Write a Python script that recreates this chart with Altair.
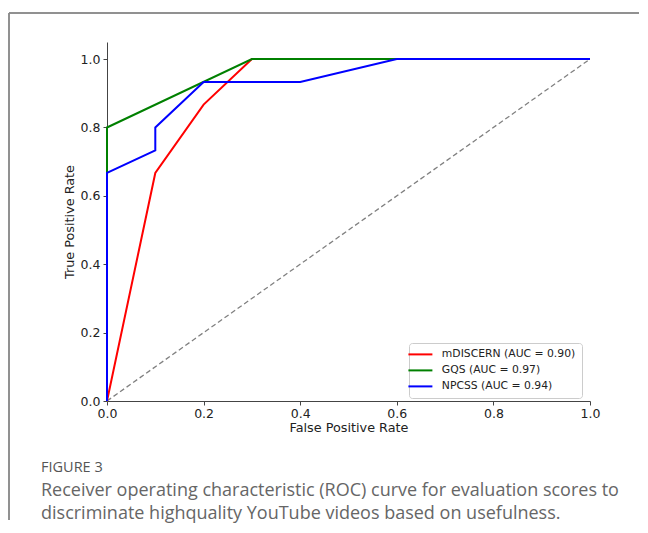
import altair as alt
import pandas as pd

series_names = ["mDISCERN (AUC = 0.90)", "GQS (AUC = 0.97)", "NPCSS (AUC = 0.94)"]
series_colors = ["#ff0000", "#008000", "#0000ff"]

fpr_mdiscern = [0.0, 0.1, 0.2, 0.3, 1.0]
tpr_mdiscern = [0.0, 0.667, 0.867, 1.0, 1.0]
fpr_gqs = [0.0, 0.0, 0.3, 1.0]
tpr_gqs = [0.0, 0.8, 1.0, 1.0]
fpr_npcss = [0.0, 0.0, 0.1, 0.1, 0.2, 0.4, 0.6, 1.0]
tpr_npcss = [0.0, 0.667, 0.733, 0.8, 0.933, 0.933, 1.0, 1.0]
diag_x = [0.0, 1.0]
diag_y = [0.0, 1.0]
tick_values = [0.0, 0.2, 0.4, 0.6, 0.8, 1.0]

caption_label = "FIGURE 3"
caption_lines = [
    "Receiver operating characteristic (ROC) curve for evaluation scores to",
    "discriminate highquality YouTube videos based on usefulness.",
]

rows = []
for name, xs, ys in zip(series_names,
                        [fpr_mdiscern, fpr_gqs, fpr_npcss],
                        [tpr_mdiscern, tpr_gqs, tpr_npcss]):
    for i, (x, y) in enumerate(zip(xs, ys)):
        rows.append({"series": name, "fpr": x, "tpr": y, "idx": i})
df = pd.DataFrame(rows)
diag = pd.DataFrame({"fpr": diag_x, "tpr": diag_y})

W, H = 483, 359
font = "DejaVu Sans"

xscale = alt.Scale(domain=[0, 1], nice=False, zero=False)
yscale = alt.Scale(domain=[0, 1.05], nice=False, zero=False)

xaxis = alt.Axis(values=tick_values, format=".1f", grid=False, title="False Positive Rate",
                 domainColor="#444", tickColor="#444", tickSize=4, labelPadding=2,
                 labelFlush=False, labelOverlap=False,
                 labelFont=font, labelFontSize=12.5, labelColor="#222",
                 titleFont=font, titleFontSize=12.8, titleFontWeight="normal", titleColor="#222",
                 titlePadding=2)
yaxis = alt.Axis(values=tick_values, format=".1f", grid=False, title="True Positive Rate",
                 domainColor="#444", tickColor="#444", tickSize=4, labelPadding=3,
                 labelFlush=False, labelOverlap=False,
                 labelFont=font, labelFontSize=12.5, labelColor="#222",
                 titleFont=font, titleFontSize=12.8, titleFontWeight="normal", titleColor="#222",
                 titlePadding=4)

diag_layer = alt.Chart(diag).mark_line(color="#808080", strokeDash=[5, 3], strokeWidth=1.3).encode(
    x=alt.X("fpr:Q", scale=xscale, axis=xaxis),
    y=alt.Y("tpr:Q", scale=yscale, axis=yaxis),
)

lines = alt.Chart(df).mark_line(strokeWidth=2).encode(
    x=alt.X("fpr:Q", scale=xscale),
    y=alt.Y("tpr:Q", scale=yscale),
    color=alt.Color("series:N",
                    scale=alt.Scale(domain=series_names, range=series_colors),
                    sort=series_names,
                    legend=alt.Legend(title=None, orient="none", legendX=302, legendY=301,
                                      padding=6, strokeColor="#cccccc", fillColor="white",
                                      cornerRadius=3, symbolType="M-3,0H3", symbolSize=64,
                                      symbolStrokeWidth=2, labelFont=font, labelFontSize=10.8,
                                      labelColor="#222", rowPadding=4, labelOffset=16)),
    order=alt.Order("idx:Q"),
    detail="series:N",
)

frame_top = alt.Chart(diag).mark_rule(color="#8a8a8a", strokeWidth=1.5).encode(
    x=alt.value(-98), x2=alt.value(532), y=alt.value(-29))
frame_left = alt.Chart(diag).mark_rule(color="#8a8a8a", strokeWidth=1.5).encode(
    x=alt.value(-98), y=alt.value(-29), y2=alt.value(478))

cap_df = pd.DataFrame({"text": [caption_label] + caption_lines})
cap_label = alt.Chart(cap_df.iloc[[0]]).mark_text(
    align="left", baseline="alphabetic", font="Open Sans", fontSize=14.5, color="#555555"
).encode(x=alt.value(-66), y=alt.value(430), text="text:N")
cap1 = alt.Chart(cap_df.iloc[[1]]).mark_text(
    align="left", baseline="alphabetic", font="Open Sans", fontSize=18, color="#666666"
).encode(x=alt.value(-66), y=alt.value(454), text="text:N")
cap2 = alt.Chart(cap_df.iloc[[2]]).mark_text(
    align="left", baseline="alphabetic", font="Open Sans", fontSize=18, color="#666666"
).encode(x=alt.value(-66), y=alt.value(477), text="text:N")

chart = alt.layer(frame_top, frame_left, diag_layer, lines, cap_label, cap1, cap2).properties(
    width=W, height=H,
    view=alt.ViewBackground(stroke="transparent", strokeWidth=0),
    padding={"left": 0, "top": 4, "right": 0, "bottom": 0},
).configure_view(stroke=None).configure(background="white")

chart.save("out.html", embed_options={"renderer": "svg", "actions": False})
